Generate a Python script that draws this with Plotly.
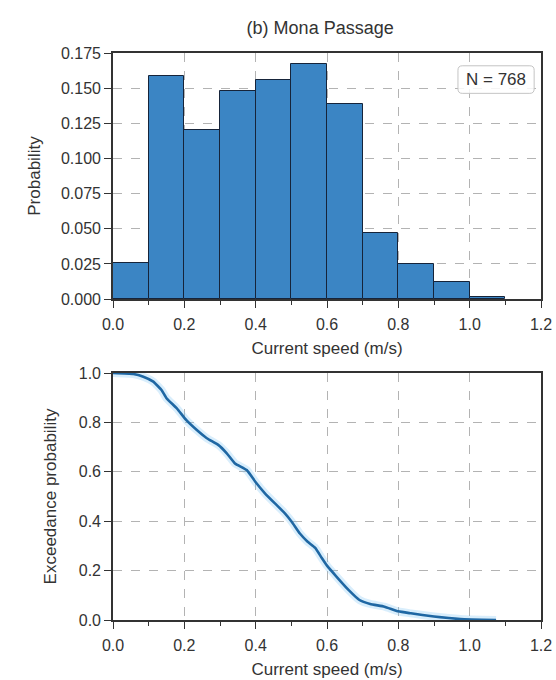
import plotly.graph_objects as go

# Histogram of current speed (bin left edges, width 0.1 m/s)
bin_left = [0.0, 0.1, 0.2, 0.3, 0.4, 0.5, 0.6, 0.7, 0.8, 0.9, 1.0]
bin_width = 0.1
probability = [0.026, 0.159, 0.120, 0.148, 0.156, 0.167, 0.139, 0.047, 0.025, 0.012, 0.0013]
n_obs = 768

# Empirical exceedance curve
speed = [0.0, 0.057, 0.085, 0.113, 0.136, 0.150, 0.179, 0.205, 0.235, 0.263,
         0.295, 0.319, 0.342, 0.375, 0.399, 0.426, 0.454, 0.482, 0.501, 0.524,
         0.545, 0.567, 0.585, 0.600, 0.627, 0.661, 0.691, 0.721, 0.761, 0.800,
         0.835, 0.900, 0.974, 1.074]
exceedance = [1.0, 0.996, 0.985, 0.965, 0.931, 0.898, 0.857, 0.810, 0.769, 0.736,
              0.709, 0.675, 0.634, 0.607, 0.560, 0.513, 0.472, 0.432, 0.398, 0.350,
              0.318, 0.292, 0.252, 0.220, 0.175, 0.121, 0.081, 0.065, 0.054, 0.035,
              0.027, 0.014, 0.004, 0.0]

x_ticks = [0.0, 0.2, 0.4, 0.6, 0.8, 1.0, 1.2]
hist_y_ticks = [0.0, 0.025, 0.05, 0.075, 0.1, 0.125, 0.15, 0.175]
exc_y_ticks = [0.0, 0.2, 0.4, 0.6, 0.8, 1.0]

FONT = "Liberation Sans, Arial, sans-serif"
TEXT = "#333333"
BAR_COLOR = "#3b85c4"
LINE_COLOR = "#1f67a3"

fig = go.Figure()

fig.add_trace(go.Bar(
    x=bin_left, y=probability, width=bin_width, offset=0,
    marker=dict(color=BAR_COLOR, line=dict(color="#16243a", width=1)),
    xaxis="x", yaxis="y", showlegend=False,
))

# soft glow under the curve
fig.add_trace(go.Scatter(
    x=speed, y=exceedance, mode="lines",
    line=dict(color="rgba(120,195,245,0.28)", width=8, shape="spline", smoothing=0.4),
    xaxis="x2", yaxis="y2", showlegend=False, hoverinfo="skip",
))
fig.add_trace(go.Scatter(
    x=speed, y=exceedance, mode="lines",
    line=dict(color=LINE_COLOR, width=2.6, shape="spline", smoothing=0.4),
    xaxis="x2", yaxis="y2", showlegend=False,
))

common = dict(
    automargin=False,
    showline=True, linecolor=TEXT, linewidth=1.6, mirror=True,
    ticks="outside", ticklen=7, tickwidth=1.4, tickcolor=TEXT,
    showgrid=True, gridcolor="#b3b3b3", griddash="dash", gridwidth=1,
    zeroline=False, tickfont=dict(family=FONT, size=16, color=TEXT),
)
x_common = dict(
    common, range=[0, 1.2], tickvals=x_ticks, tickformat=".1f",
    ticklabelstandoff=3,
    minor=dict(tick0=0, dtick=0.1, ticks="outside", ticklen=4,
               tickwidth=1.2, tickcolor=TEXT, showgrid=False),
    title=dict(text="Current speed (m/s)", standoff=10,
               font=dict(family=FONT, size=17, color=TEXT)),
)

# rounded box behind the sample-size label (axis-domain coordinates)
bx0, bx1, by0, by1 = 0.806, 0.984, 0.836, 0.948
rx, ry = 0.010, 0.018
box_path = (f"M {bx0+rx},{by1} L {bx1-rx},{by1} Q {bx1},{by1} {bx1},{by1-ry} "
            f"L {bx1},{by0+ry} Q {bx1},{by0} {bx1-rx},{by0} "
            f"L {bx0+rx},{by0} Q {bx0},{by0} {bx0},{by0+ry} "
            f"L {bx0},{by1-ry} Q {bx0},{by1} {bx0+rx},{by1} Z")

fig.update_layout(
    width=556, height=680,
    margin=dict(l=113, r=15, t=53, b=60),
    paper_bgcolor="white", plot_bgcolor="white",
    bargap=0,
    title=dict(text="(b) Mona Passage", x=0.484, xref="paper", xanchor="center",
               y=1 - 28 / 680, yref="container", yanchor="middle",
               font=dict(family=FONT, size=18, color=TEXT)),
    xaxis=dict(x_common, domain=[0, 1], anchor="y"),
    yaxis=dict(common, domain=[0.566, 1], anchor="x", range=[0, 0.175],
               tickvals=hist_y_ticks, tickformat=".3f",
               title=dict(text="Probability", standoff=16,
                          font=dict(family=FONT, size=17, color=TEXT))),
    xaxis2=dict(x_common, domain=[0, 1], anchor="y2"),
    yaxis2=dict(common, domain=[0, 0.4356], anchor="x2", range=[0, 1.0],
                tickvals=exc_y_ticks, tickformat=".1f",
                title=dict(text="Exceedance probability", standoff=18,
                           font=dict(family=FONT, size=17, color=TEXT))),
    shapes=[dict(type="path", path=box_path, xref="x domain", yref="y domain",
                 fillcolor="rgba(255,255,255,0.85)",
                 line=dict(color="#c4c4c4", width=1), layer="above")],
    annotations=[dict(
        text=f"N = {n_obs}", xref="x domain", yref="y domain",
        x=(bx0 + bx1) / 2, y=(by0 + by1) / 2, xanchor="center", yanchor="middle",
        showarrow=False, font=dict(family=FONT, size=17, color=TEXT),
    )],
)

fig.write_html("out.html")
